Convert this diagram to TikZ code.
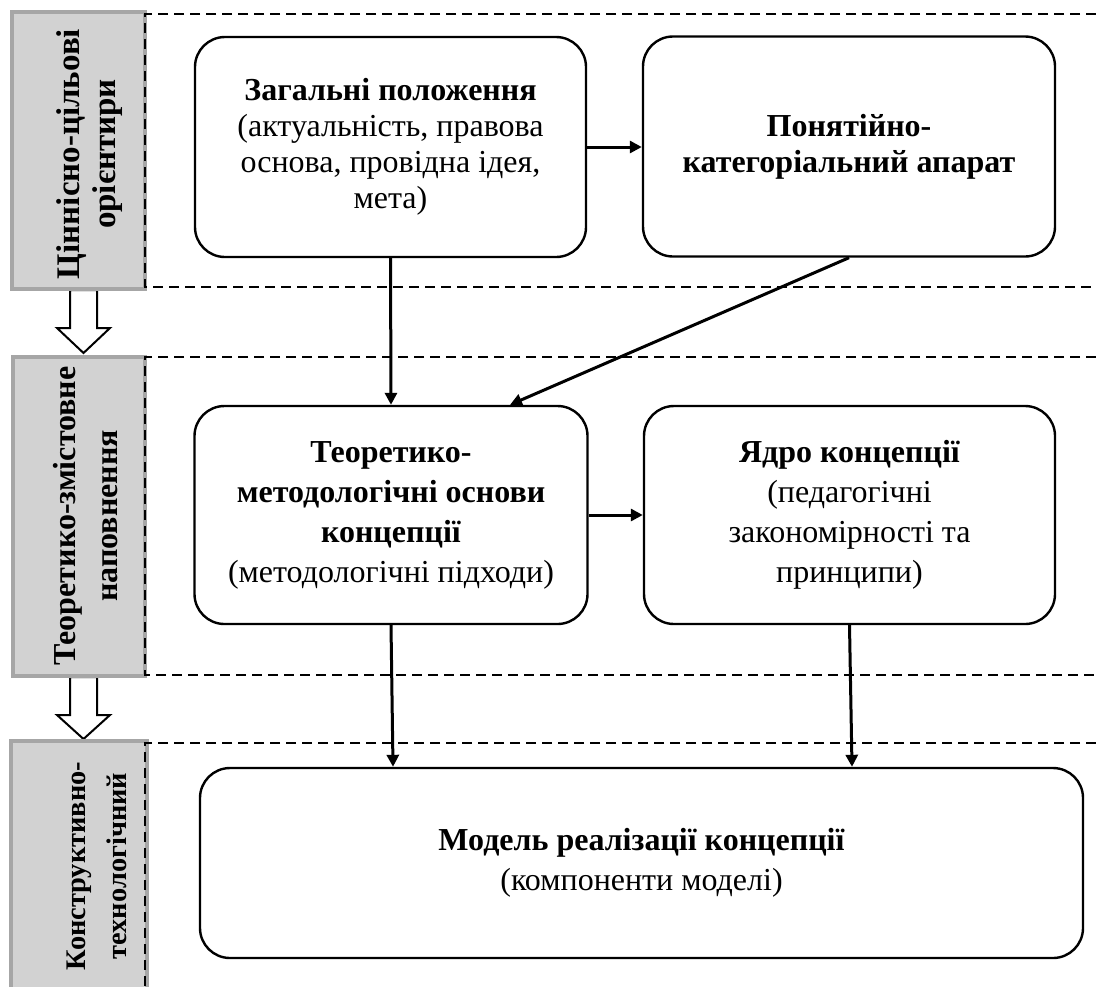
\documentclass[tikz,border=0pt]{standalone}
\usepackage{fontspec}
\setmainfont{Liberation Serif}
\usetikzlibrary{arrows.meta}

\begin{document}
\begin{tikzpicture}[x=0.5pt, y=-0.5pt, >={Triangle[length=6pt,width=6pt]},
        every node/.append style={font=\fontsize{16}{18}\selectfont}]
      \tikzstyle{block} = [draw, line width=1.2pt, rounded corners=15pt, align=center, inner sep=0pt, fill=white]
      \tikzstyle{wide} = [font=\fontsize{16}{20}\selectfont]
      \tikzstyle{band} = [draw=black!35, line width=2pt, fill=gray!35]
      \tikzstyle{border} = [line width=1pt, dash pattern=on 5pt off 3pt]
      \tikzstyle{vlabel} = [rotate=90, align=center]
      \tikzstyle{link} = [->, line width=1.5pt]
      \tikzstyle{hollow} = [draw, line width=1pt, fill=white]
      \useasboundingbox (0,0) rectangle (1096,986);
      \draw[hollow] (70,290) -- (70,328) -- (57,328) -- (83.5,353) -- (110,328) -- (97,328) -- (97,290) -- cycle;
      \draw[hollow] (70,677) -- (70,715) -- (57,715) -- (83.5,739) -- (110,715) -- (97,715) -- (97,677) -- cycle;
      \filldraw[band] (12,12) rectangle (145,289);
      \filldraw[band] (13,357) rectangle (145,676);
      \filldraw[band] (11,741) rectangle (147,1000);
      \node[vlabel, font=\bfseries\fontsize{16.5}{18}\selectfont] (val) at (90,154) {Ціннісно-цільові\\орієнтири};
      \node[vlabel, font=\bfseries\fontsize{16}{21}\selectfont] (theo) at (86,516) {Теоретико-змістовне\\наповнення};
      \node[vlabel, font=\bfseries\fontsize{14.2}{20.5}\selectfont] (constr) at (97,866) {Конструктивно-\\технологічний};
      \draw[border] (1096,14) -- (145,14) -- (145,287) -- (1096,287);
      \draw[border] (1096,357) -- (145,357) -- (145,675) -- (1096,675);
      \draw[border] (1096,743) -- (145,743) -- (145,986);
      \node[block, minimum width=195.5pt, minimum height=110pt] (zag) at (390.5,147)
        {\textbf{Загальні положення}\\(актуальність, правова\\основа, провідна ідея,\\мета)};
      \node[block, minimum width=206pt, minimum height=110pt] (pon) at (849,146.5)
        {\textbf{Понятійно-}\\\textbf{категоріальний апарат}};
      \node[block, wide, minimum width=196.5pt, minimum height=109pt] (teor) at (391,515)
        {\textbf{Теоретико-}\\\textbf{методологічні основи}\\\textbf{концепції}\\(методологічні підходи)};
      \node[block, wide, minimum width=205.5pt, minimum height=109pt] (yad) at (849.5,515)
        {\textbf{Ядро концепції}\\(педагогічні\\закономірності та\\принципи)};
      \node[block, wide, minimum width=441.5pt, minimum height=95pt] (model) at (641.5,863)
        {\textbf{Модель реалізації концепції}\\(компоненти моделі)};
      \draw[link] (zag.east) -- (zag.east -| pon.west);
      \draw[link] (zag.south) -- (teor.north);
      \draw[link] (pon.south) -- ([xshift=59.5pt]teor.north);
      \draw[link] (teor.east) -- (teor.east -| yad.west);
      \draw[link] (teor.south) -- ([xshift=-124.25pt]model.north);
      \draw[link] (yad.south) -- ([xshift=105.25pt]model.north);
\end{tikzpicture}
\end{document}
